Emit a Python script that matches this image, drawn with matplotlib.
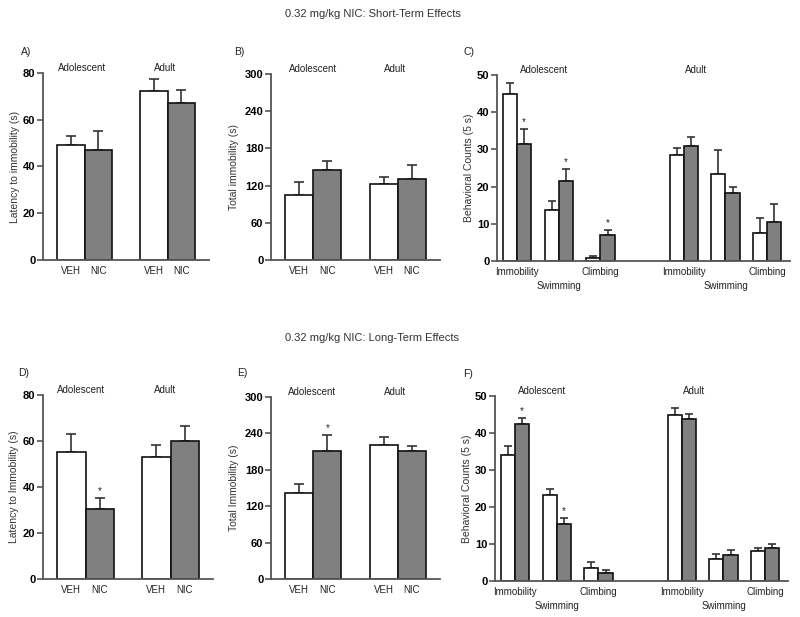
import numpy as np
import matplotlib
matplotlib.use('Agg')
import matplotlib.pyplot as plt

plt.rcParams['font.family'] = ['Liberation Sans', 'DejaVu Sans']

# two-group panels (VEH / NIC for adolescent and adult)
lat_short = [49.0, 47.0, 72.4, 67.1]
lat_short_err = [4.0, 8.0, 5.0, 5.8]
tot_short = [105, 145, 123, 131]
tot_short_err = [21, 14, 11, 22]
lat_long = [55.3, 30.4, 52.9, 60.0]
lat_long_err = [7.6, 4.8, 5.5, 6.7]
tot_long = [141, 211, 221, 211]
tot_long_err = [15, 26, 13, 8]

# behavioural counts: Immobility, Swimming, Climbing
beh_short_veh = [44.8, 13.6, 0.9, 28.5, 23.5, 7.4]
beh_short_veh_err = [3.0, 2.6, 0.5, 1.8, 6.3, 4.2]
beh_short_nic = [31.4, 21.4, 6.9, 30.9, 18.4, 10.4]
beh_short_nic_err = [4.0, 3.4, 1.3, 2.4, 1.5, 5.0]
beh_long_veh = [34.1, 23.2, 3.4, 45.0, 6.0, 8.0]
beh_long_veh_err = [2.4, 1.7, 1.8, 1.9, 1.4, 0.9]
beh_long_nic = [42.5, 15.3, 2.2, 43.8, 7.1, 8.8]
beh_long_nic_err = [1.5, 1.7, 0.7, 1.3, 1.2, 1.3]

group_ticks = ['VEH', 'NIC', 'VEH', 'NIC']
beh_ticks = ['Immobility', '\nSwimming', 'Climbing', 'Immobility', '\nSwimming', 'Climbing']

GREY = '#808080'
SPINE = '#555555'
ERR = '#333333'


def style(ax, ymax, yticks):
    for s in ['top', 'right']:
        ax.spines[s].set_visible(False)
    for s in ['left', 'bottom']:
        ax.spines[s].set_color(SPINE)
        ax.spines[s].set_linewidth(1.3)
    ax.set_ylim(0, ymax)
    ax.set_yticks(yticks)
    ax.tick_params(axis='y', length=4, width=1.2, color=SPINE, labelsize=8, pad=1.5)
    ax.tick_params(axis='x', length=0, labelsize=7, pad=4, labelcolor='#222222')
    for t in ax.get_yticklabels():
        t.set_fontweight('bold')


def star(ax, x, top):
    ax.annotate('*', (x, top), xytext=(0, 1.5), textcoords='offset points',
                ha='center', va='bottom', fontsize=7, color='#222222')


def two_group(ax, vals, errs, ymax, yticks, ylabel, adol_x, adult_x, stars=()):
    x = np.array([0, 1, 3, 4])
    colors = ['white', GREY, 'white', GREY]
    ax.bar(x, vals, width=1.0, color=colors, edgecolor='#111111', linewidth=1.2, zorder=2)
    ax.errorbar(x, vals, yerr=[np.zeros(4), errs], fmt='none', ecolor=ERR,
                elinewidth=1.2, capsize=3.5, capthick=1.2, zorder=1)
    for i in stars:
        star(ax, x[i], vals[i] + errs[i])
    ax.set_xticks(x)
    ax.set_xticklabels(group_ticks)
    ax.set_xlim(-1, 5)
    style(ax, ymax, yticks)
    ax.set_ylabel(ylabel, fontsize=7.5, color='#333333')
    ax.text(adol_x, 1.025, 'Adolescent', transform=ax.get_xaxis_transform(),
            ha='center', va='center', fontsize=7, color='#222222')
    ax.text(adult_x, 1.025, 'Adult', transform=ax.get_xaxis_transform(),
            ha='center', va='center', fontsize=7, color='#222222')


def behaviour(ax, veh, veh_err, nic, nic_err, stars=()):
    pos = np.array([0, 1, 2, 4, 5, 6])
    w = 0.34
    ax.bar(pos - w / 2, veh, width=w, color='white', edgecolor='#111111', linewidth=1.2, zorder=2)
    ax.bar(pos + w / 2, nic, width=w, color=GREY, edgecolor='#111111', linewidth=1.2, zorder=2)
    ax.errorbar(pos - w / 2, veh, yerr=[np.zeros(6), veh_err], fmt='none', ecolor=ERR,
                elinewidth=1.2, capsize=3, capthick=1.2, zorder=1)
    ax.errorbar(pos + w / 2, nic, yerr=[np.zeros(6), nic_err], fmt='none', ecolor=ERR,
                elinewidth=1.2, capsize=3, capthick=1.2, zorder=1)
    for i in stars:
        star(ax, pos[i] + w / 2, nic[i] + nic_err[i])
    ax.set_xticks(pos)
    ax.set_xticklabels(beh_ticks)
    for t in ax.get_xticklabels():
        t.set_linespacing(1.6)
        t.set_color('#333333')
    ax.set_xlim(-0.48, 6.55)
    style(ax, 50, [0, 10, 20, 30, 40, 50])
    ax.set_ylabel('Behavioral Counts (5 s)', fontsize=7.5, color='#333333')
    ax.text(0.65, 1.025, 'Adolescent', transform=ax.get_xaxis_transform(),
            ha='center', va='center', fontsize=7, color='#222222')
    ax.text(4.3, 1.025, 'Adult', transform=ax.get_xaxis_transform(),
            ha='center', va='center', fontsize=7, color='#222222')


fig = plt.figure(figsize=(8, 6.17), dpi=100)

axA = fig.add_axes([0.0538, 0.5786, 0.2075, 0.3031])
axB = fig.add_axes([0.3388, 0.5786, 0.2113, 0.3015])
axC = fig.add_axes([0.6213, 0.5770, 0.3663, 0.3015])
axD = fig.add_axes([0.0538, 0.0616, 0.2125, 0.2982])
axE = fig.add_axes([0.3388, 0.0616, 0.2113, 0.2950])
axF = fig.add_axes([0.6188, 0.0583, 0.3663, 0.2998])

two_group(axA, lat_short, lat_short_err, 80, [0, 20, 40, 60, 80],
          'Latency to immobility (s)', 0.4, 3.4)
two_group(axB, tot_short, tot_short_err, 300, [0, 60, 120, 180, 240, 300],
          'Total immobility (s)', 0.5, 3.4)
behaviour(axC, beh_short_veh, beh_short_veh_err, beh_short_nic, beh_short_nic_err, stars=[0, 1, 2])
two_group(axD, lat_long, lat_long_err, 80, [0, 20, 40, 60, 80],
          'Latency to Immobility (s)', 0.35, 3.3, stars=[1])
two_group(axE, tot_long, tot_long_err, 300, [0, 60, 120, 180, 240, 300],
          'Total Immobility (s)', 0.47, 3.4, stars=[1])
behaviour(axF, beh_long_veh, beh_long_veh_err, beh_long_nic, beh_long_nic_err, stars=[0, 1])

for ax in [axA, axD]:
    ax.yaxis.set_label_coords(-0.14, 0.5)
for ax in [axB, axE]:
    ax.yaxis.set_label_coords(-0.19, 0.5)
for ax in [axC, axF]:
    ax.yaxis.set_label_coords(-0.08, 0.5)

fig.text(373 / 800, 1 - 14 / 617, '0.32 mg/kg NIC: Short-Term Effects', ha='center', va='center',
         fontsize=8, color='#333333')
fig.text(372 / 800, 1 - 338 / 617, '0.32 mg/kg NIC: Long-Term Effects', ha='center', va='center',
         fontsize=8, color='#333333')

panel_labels = [('A)', 21, 52), ('B)', 234, 52), ('C)', 463, 52),
                ('D)', 18, 373), ('E)', 237, 373), ('F)', 463, 374)]
for lab, px, py in panel_labels:
    fig.text(px / 800, 1 - py / 617, lab, ha='left', va='center', fontsize=7.5, color='#222222')

fig.savefig('out.png', dpi=100)
